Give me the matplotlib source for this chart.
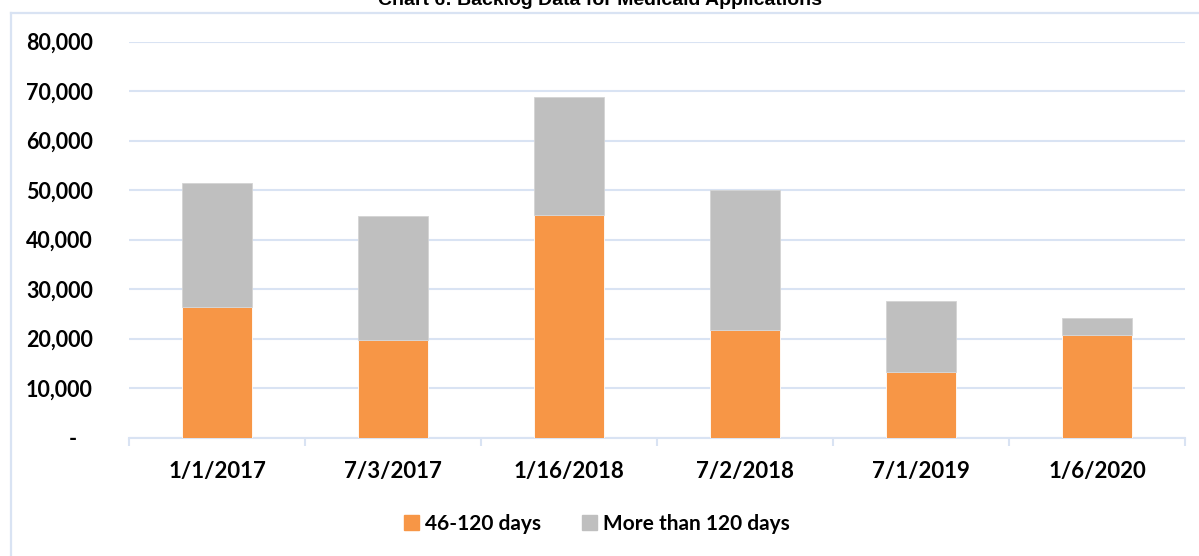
import numpy as np
import matplotlib.pyplot as plt
from matplotlib.lines import Line2D
from matplotlib.ticker import FuncFormatter

TITLE = "Chart 6: Backlog Data for Medicaid Applications"
DATES = ["1/1/2017", "7/3/2017", "1/16/2018", "7/2/2018", "7/1/2019", "1/6/2020"]
DAYS_46_120 = [26400, 19800, 45050, 21800, 13200, 20700]
TOTAL = [51400, 44800, 68800, 50100, 27550, 24250]
MORE_120 = [t - a for t, a in zip(TOTAL, DAYS_46_120)]
SERIES = ["46-120 days", "More than 120 days"]

ORANGE = "#F79646"
GRAY = "#BFBFBF"
GRID = "#D9E3F3"
FONT = "Lato"

W, H = 1199, 556
fig = plt.figure(figsize=(W / 100, H / 100), dpi=100)

# axes placed in pixel terms
left, right, top, bottom = 129, 1185, 41.7, 437.7
ax = fig.add_axes([left / W, 1 - bottom / H, (right - left) / W, (bottom - top) / H])

xs = np.arange(len(DATES))
ax.bar(xs, DAYS_46_120, width=0.4, color=ORANGE, edgecolor="white", linewidth=0.6, zorder=3)
ax.bar(xs, MORE_120, width=0.4, bottom=DAYS_46_120, color=GRAY, edgecolor="#D4D4D4",
       linewidth=0.6, zorder=3)

ax.set_xlim(-0.5, len(DATES) - 0.5)
ax.set_ylim(0, 80000)
ax.set_yticks(np.arange(0, 80001, 10000))
ax.yaxis.set_major_formatter(FuncFormatter(lambda v, p: "-   " if v == 0 else "{:,.0f}".format(v)))
ax.grid(axis="y", color=GRID, linewidth=1.5, zorder=0)
ax.tick_params(axis="y", length=0, pad=26, labelsize=15.5)

ax.set_xticks(xs)
ax.set_xticklabels(DATES)
ax.set_xticks(np.arange(-0.5, len(DATES), 1), minor=True)
ax.tick_params(axis="x", which="major", length=0, pad=17, labelsize=16)
ax.tick_params(axis="x", which="minor", length=6, width=1.5, color=GRID)

for lab in ax.get_xticklabels() + ax.get_yticklabels():
    lab.set_fontfamily(FONT)
    lab.set_fontweight("bold")

for s in ["top", "right", "left"]:
    ax.spines[s].set_visible(False)
ax.spines["bottom"].set_color(GRID)
ax.spines["bottom"].set_linewidth(1.5)

# outer chart frame (top and left only visible)
fig.add_artist(Line2D([11 / W, 11 / W], [0, 1 - 12.7 / H], color=GRID, linewidth=1.6))
fig.add_artist(Line2D([11 / W, 1], [1 - 12.7 / H, 1 - 12.7 / H], color=GRID, linewidth=1.6))

fig.text(0.5, 1 - 5 / H, TITLE, ha="center", va="baseline", fontsize=14,
         fontweight="bold", family="Liberation Sans")

handles = [plt.Rectangle((0, 0), 1, 1, color=ORANGE), plt.Rectangle((0, 0), 1, 1, color=GRAY)]
leg = fig.legend(handles, SERIES, loc="center", bbox_to_anchor=(597 / W, 1 - 524 / H), ncol=2,
                 frameon=False, handlelength=0.7, handleheight=0.7, handletextpad=0.3,
                 columnspacing=2.0, prop={"family": FONT, "weight": "bold", "size": 15})

fig.savefig("out.png", dpi=100)
